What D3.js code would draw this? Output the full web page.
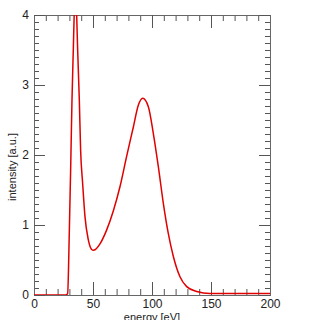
<!DOCTYPE html>
<html>
<head>
<meta charset="utf-8">
<script src="https://cdn.jsdelivr.net/npm/d3@7"></script>
<style>
  body { margin: 0; background: #fff; }
  svg { display: block; font-family: "Liberation Sans", Arial, sans-serif; }
  .tick line { stroke: #555; }
  .domain { stroke: #666; }
</style>
</head>
<body>
<svg id="chart" width="320" height="320"></svg>
<script>
// spectrum
var energy = [0, 10, 20, 27, 28.5, 29.9, 31.1, 32.2, 33.3, 34.2, 35.2, 36.2, 37, 38.4, 39.5, 41.2, 43.2, 46, 48.9, 50.3, 52, 55.9, 61.6, 67.2, 72.9, 78.5, 84.2, 88.4, 92.1, 96.9, 101.1, 105.4, 109.6, 113.8, 118.1, 123.7, 129.4, 137.9, 149, 160, 170, 180, 190, 200];
var intensity = [0, 0, 0, 0, 0.02, 0.88, 1.83, 2.79, 3.5, 4.1, 4.6, 3.98, 3.5, 2.79, 2.07, 1.6, 1.12, 0.79, 0.65, 0.64, 0.65, 0.73, 0.93, 1.2, 1.55, 1.98, 2.40, 2.71, 2.81, 2.69, 2.31, 1.83, 1.31, 0.88, 0.55, 0.26, 0.12, 0.05, 0.02, 0.02, 0.02, 0.02, 0.02, 0.02];

var xMajor = [0, 50, 100, 150, 200];
var yMajor = [0, 1, 2, 3, 4];

var margin = {left: 34, right: 50, top: 15, bottom: 25},
    width = 320 - margin.left - margin.right,
    height = 320 - margin.top - margin.bottom;

var svg = d3.select("#chart");
var g = svg.append("g").attr("transform", "translate(" + margin.left + "," + margin.top + ")");

var x = d3.scaleLinear().domain([0, 200]).range([0, width]);
var y = d3.scaleLinear().domain([0, 4]).range([height, 0]);

var xMinor = d3.range(0, 201, 10).filter(function(v){ return v % 50 != 0; });
var yMinor = d3.range(0, 41).map(function(v){ return v / 10; }).filter(function(v){ return v % 1 != 0; });

// minor ticks, all four sides, pointing inwards
g.append("g").attr("transform", "translate(0," + height + ")")
  .call(d3.axisBottom(x).tickValues(xMinor).tickSize(-6).tickFormat(""));
g.append("g")
  .call(d3.axisTop(x).tickValues(xMinor).tickSize(-6).tickFormat(""));
g.append("g")
  .call(d3.axisLeft(y).tickValues(yMinor).tickSize(-5).tickFormat(""));
g.append("g").attr("transform", "translate(" + width + ",0)")
  .call(d3.axisRight(y).tickValues(yMinor).tickSize(-5).tickFormat(""));

// major ticks with labels
g.append("g").attr("transform", "translate(0," + height + ")")
  .call(d3.axisBottom(x).tickValues(xMajor).tickSize(-13).tickPadding(4).tickFormat(d3.format("d")));
g.append("g")
  .call(d3.axisTop(x).tickValues(xMajor).tickSize(-13).tickFormat(""));
g.append("g")
  .call(d3.axisLeft(y).tickValues(yMajor).tickSize(-11).tickPadding(5).tickFormat(d3.format("d")));
g.append("g").attr("transform", "translate(" + width + ",0)")
  .call(d3.axisRight(y).tickValues(yMajor).tickSize(-11).tickFormat(""));

g.selectAll(".tick text").attr("font-size", 12).attr("fill", "#222")
  .attr("font-family", "Liberation Sans, Arial, sans-serif");

// clip the curve to the frame, the first peak runs off the top
svg.append("defs").append("clipPath").attr("id", "clip")
  .append("rect").attr("width", width).attr("height", height);

var line = d3.line()
  .x(function(d, i){ return x(energy[i]); })
  .y(function(d){ return y(d); })
  .curve(d3.curveMonotoneX);

g.append("path")
  .datum(intensity)
  .attr("clip-path", "url(#clip)")
  .attr("fill", "none")
  .attr("stroke", "#e00000")
  .attr("stroke-width", 1.5)
  .attr("d", line);

// axis titles
svg.append("text")
  .attr("x", margin.left + width / 2)
  .attr("y", 321)
  .attr("text-anchor", "middle")
  .attr("font-size", 11)
  .attr("fill", "#222")
  .text("energy [eV]");

svg.append("text")
  .attr("transform", "translate(16," + (margin.top + height / 2 + 12) + ") rotate(-90)")
  .attr("text-anchor", "middle")
  .attr("font-size", 11)
  .attr("fill", "#222")
  .text("intensity [a.u.]");
</script>
</body>
</html>
